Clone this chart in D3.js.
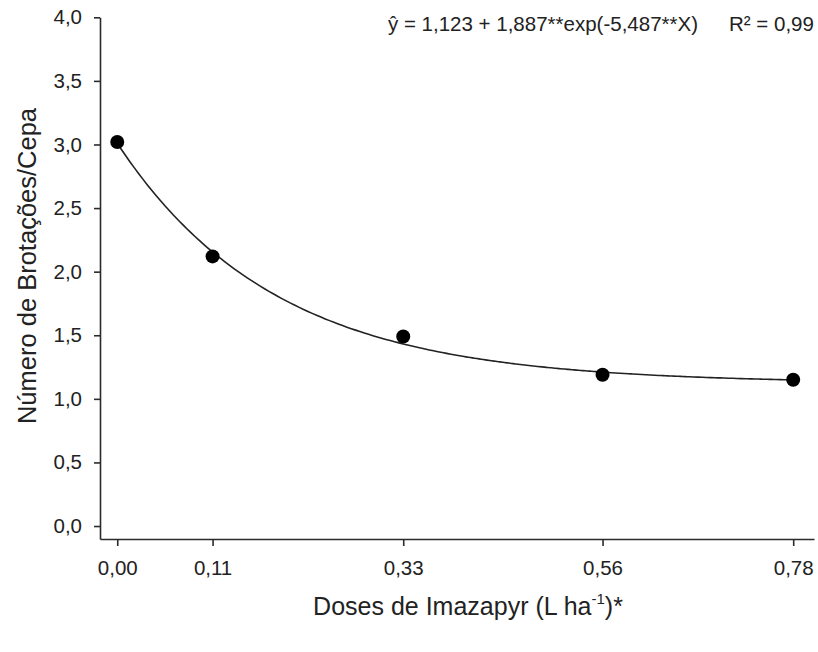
<!DOCTYPE html>
<html>
<head>
<meta charset="utf-8">
<script src="https://cdn.jsdelivr.net/npm/d3@7"></script>
<style>
  html, body { margin: 0; padding: 0; background: #fff; }
  svg { display: block; font-family: "Liberation Sans", Arial, sans-serif; }
</style>
</head>
<body>
<svg id="chart" width="818" height="652"></svg>
<script>
// ---- data ----
const doses = [0.00, 0.11, 0.33, 0.56, 0.78];
const brotacoes = [3.02, 2.12, 1.49, 1.19, 1.15];
const xTickValues = [0.00, 0.11, 0.33, 0.56, 0.78];
const xTickLabels = ["0,00", "0,11", "0,33", "0,56", "0,78"];
const yTickValues = [0.0, 0.5, 1.0, 1.5, 2.0, 2.5, 3.0, 3.5, 4.0];
const yTickLabels = ["0,0", "0,5", "1,0", "1,5", "2,0", "2,5", "3,0", "3,5", "4,0"];
// fitted model stated on the chart: y = a + b*exp(c*X)
const modelCoefs = [1.123, 1.887, -5.487];

const svg = d3.select("#chart");
const ink = "#2b2b2b";
const font = "'Liberation Sans', Arial, sans-serif";

const x = d3.scaleLinear().domain([-0.0199, 0.804]).range([100, 814]);
const y = d3.scaleLinear().domain([-0.102, 4.0]).range([539, 17.3]);

// x axis
const xAxis = d3.axisBottom(x)
  .tickValues(xTickValues)
  .tickFormat((d, i) => xTickLabels[i])
  .tickSizeInner(7).tickSizeOuter(0).tickPadding(14);
const gx = svg.append("g").attr("transform", `translate(0,${y.range()[0]})`).call(xAxis);
gx.select(".domain").attr("stroke", ink).attr("stroke-width", 1.6);
gx.selectAll(".tick line").attr("stroke", ink).attr("stroke-width", 1.6);
gx.selectAll(".tick text").attr("fill", "#222").style("font-size", "20.5px").style("font-family", font);

// y axis
const yAxis = d3.axisLeft(y)
  .tickValues(yTickValues)
  .tickFormat((d, i) => yTickLabels[i])
  .tickSizeInner(6).tickSizeOuter(0).tickPadding(12);
const gy = svg.append("g").attr("transform", `translate(${x.range()[0]},0)`).call(yAxis);
gy.select(".domain").attr("stroke", ink).attr("stroke-width", 1.6);
gy.selectAll(".tick line").attr("stroke", ink).attr("stroke-width", 1.6);
gy.selectAll(".tick text").attr("fill", "#222").style("font-size", "20.5px").style("font-family", font);

// fitted curve
const [a, b, c] = modelCoefs;
const curveX = d3.range(0, 0.78 + 1e-9, 0.005);
const line = d3.line().x(d => x(d)).y(d => y(a + b * Math.exp(c * d))).curve(d3.curveMonotoneX);
svg.append("path").datum(curveX)
  .attr("d", line)
  .attr("fill", "none").attr("stroke", "#222").attr("stroke-width", 1.6);

// points
svg.selectAll("circle.pt").data(doses).join("circle")
  .attr("class", "pt")
  .attr("cx", d => x(d))
  .attr("cy", (d, i) => y(brotacoes[i]))
  .attr("r", 7)
  .attr("fill", "#000");

// axis titles
svg.append("text")
  .attr("x", 468).attr("y", 615)
  .attr("text-anchor", "middle")
  .style("font-size", "25px").attr("fill", "#222")
  .html('Doses de Imazapyr (L ha<tspan dy="-11" font-size="15px">-1</tspan><tspan dy="11">)*</tspan>');

svg.append("text")
  .attr("transform", "translate(36,266) rotate(-90)")
  .attr("text-anchor", "middle")
  .style("font-size", "25.5px").attr("fill", "#222")
  .text("Número de Brotações/Cepa");

// equation
const eq = svg.append("text")
  .attr("x", 388).attr("y", 31)
  .style("font-size", "20.5px").attr("fill", "#222");
eq.append("tspan").text("ŷ = 1,123 + 1,887**exp(-5,487**X)");
eq.append("tspan").attr("dx", 31).text("R² = 0,99");
</script>
</body>
</html>
